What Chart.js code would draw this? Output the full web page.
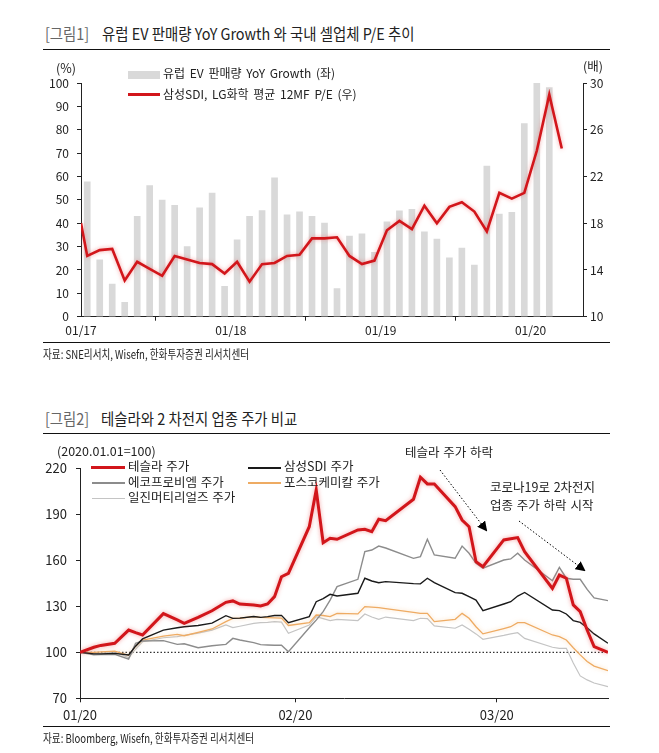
<!DOCTYPE html>
<html>
<head>
<meta charset="utf-8">
<script src="https://cdn.jsdelivr.net/npm/chart.js@4.4.1/dist/chart.umd.min.js"></script>
<style>
body { margin: 0; background: #fff; font-family: 'Noto Sans CJK KR', 'Noto Sans', sans-serif; color: #222; }
#page { position: relative; width: 659px; height: 753px; overflow: hidden; }
.t { position: absolute; white-space: nowrap; line-height: 1; }
.rule { position: absolute; left: 43px; width: 567px; height: 1px; background: #111; }
.title { font-size: 16px; transform: scaleX(.9); transform-origin: left center; }
.tag { color: #666; }
.src { font-size: 12px; transform: scaleX(.8); transform-origin: left center; }
.leg { font-size: 12.5px; word-spacing: 1px; color: #222; }
.leg1 { font-size: 12px; word-spacing: 2px; color: #222; }
.sw { position: absolute; }
canvas { position: absolute; left: 0; }
svg { position: absolute; left: 0; top: 0; }
</style>
</head>
<body>
<div id="page">
  <!-- figure 1 -->
  <div class="t title tag" style="left:45px;top:25px">[그림1]</div>
  <div class="t title" style="left:102px;top:25px">유럽 EV 판매량 YoY Growth 와 국내 셀업체 P/E 추이</div>
  <div class="rule" style="top:49px"></div>
  <canvas id="evChart" width="659" height="295" style="top:50px"></canvas>
  <div class="t leg" style="left:56px;top:62px">(%)</div>
  <div class="t leg" style="left:583px;top:60px">(배)</div>
  <div class="sw" style="left:128px;top:71px;width:32px;height:8px;background:#d9d9d9"></div>
  <div class="t leg1" style="left:163px;top:67px">유럽 EV 판매량 YoY Growth (좌)</div>
  <div class="sw" style="left:128px;top:93px;width:32px;height:3px;background:#d2161b"></div>
  <div class="t leg1" style="left:163px;top:88px">삼성SDI, LG화학 평균 12MF P/E (우)</div>
  <div class="rule" style="top:342px"></div>
  <div class="t src" style="left:43px;top:348px">자료: SNE리서치, Wisefn, 한화투자증권 리서치센터</div>

  <!-- figure 2 -->
  <div class="t title tag" style="left:45px;top:410px">[그림2]</div>
  <div class="t title" style="left:101px;top:410px">테슬라와 2 차전지 업종 주가 비교</div>
  <div class="rule" style="top:433px"></div>
  <canvas id="stockChart" width="659" height="290" style="top:440px"></canvas>
  <div class="t leg" style="left:57px;top:445px;word-spacing:0">(2020.01.01=100)</div>

  <div class="sw" style="left:91px;top:466px;width:34px;height:3px;background:#d2161b"></div>
  <div class="t leg" style="left:128px;top:460px">테슬라 주가</div>
  <div class="sw" style="left:248px;top:467px;width:33px;height:1.5px;background:#1a1a1a"></div>
  <div class="t leg" style="left:284px;top:460px">삼성SDI 주가</div>
  <div class="sw" style="left:92px;top:482px;width:33px;height:1.5px;background:#8c8c8c"></div>
  <div class="t leg" style="left:128px;top:476px">에코프로비엠 주가</div>
  <div class="sw" style="left:248px;top:482px;width:33px;height:1.5px;background:#eeab63"></div>
  <div class="t leg" style="left:284px;top:476px">포스코케미칼 주가</div>
  <div class="sw" style="left:92px;top:498px;width:33px;height:1px;background:#c4c4c4"></div>
  <div class="t leg" style="left:128px;top:491px">일진머티리얼즈 주가</div>

  <div class="t leg" style="left:405px;top:446px">테슬라 주가 하락</div>
  <div class="t leg" style="left:490px;top:481px">코로나19로 2차전지</div>
  <div class="t leg" style="left:490px;top:499px">업종 주가 하락 시작</div>
  <svg width="659" height="753">
    <defs>
      <marker id="ah" markerWidth="10" markerHeight="10" refX="8" refY="5" orient="auto" markerUnits="userSpaceOnUse">
        <path d="M0,0 L10,5 L0,10 z" fill="#000"/>
      </marker>
    </defs>
    <line x1="440" y1="470" x2="486" y2="530" stroke="#000" stroke-width="1" stroke-dasharray="1.5,2" marker-end="url(#ah)"/>
    <line x1="519" y1="521" x2="584" y2="570" stroke="#000" stroke-width="1" stroke-dasharray="1.5,2" marker-end="url(#ah)"/>
  </svg>

  <div class="rule" style="top:726px"></div>
  <div class="t src" style="left:43px;top:732px">자료: Bloomberg, Wisefn, 한화투자증권 리서치센터</div>
</div>

<script>
// ---------- figure 1 data ----------
var months = [
  '01/17','02/17','03/17','04/17','05/17','06/17','07/17','08/17','09/17','10/17','11/17','12/17',
  '01/18','02/18','03/18','04/18','05/18','06/18','07/18','08/18','09/18','10/18','11/18','12/18',
  '01/19','02/19','03/19','04/19','05/19','06/19','07/19','08/19','09/19','10/19','11/19','12/19',
  '01/20','02/20','03/20'
];
// EU EV sales YoY growth (%), 01/17 ~ 02/20
var evGrowth = [
  57.7, 24.3, 14.0, 6.1, 43.0, 56.1, 49.9, 47.7, 30.0, 46.6, 52.9, 13.0,
  32.9, 42.9, 45.4, 59.4, 43.6, 44.9, 43.0, 40.1, 12.0, 34.5, 35.5, 27.5,
  40.6, 45.3, 45.9, 36.3, 33.2, 25.2, 29.4, 22.1, 64.5, 43.9, 44.7, 82.6,
  100.0, 98.0
];
// Samsung SDI / LG Chem avg 12MF P/E (x): start of 01/17, then monthly 01/17 ~ 03/20
var peRatio = [
  18.0,
  15.2, 15.7, 15.8, 13.1, 14.7, 14.1, 13.5, 15.2, 14.9, 14.6, 14.5, 13.7,
  14.7, 13.0, 14.5, 14.6, 15.2, 15.3, 16.7, 16.7, 16.8, 15.2, 14.5, 14.8,
  17.4, 18.2, 17.5, 19.5, 18.0, 19.4, 19.8, 19.0, 17.3, 20.6, 20.1, 20.6,
  24.2, 29.0, 24.4
];
var evTicks = [0, 12, 24, 36];

// ---------- figure 2 data ----------
var tradeDates = [
  '01-01','01-03','01-04','01-06','01-08','01-09','01-10','01-13','01-15','01-16','01-18','01-20',
  '01-22','01-23','01-24','01-26','01-27','01-28','01-29','01-30','01-31',
  '02-03','02-04','02-05','02-06','02-07','02-10','02-11','02-12','02-13','02-14',
  '02-18','02-19','02-20','02-21','02-24','02-25','02-26','02-27','02-28',
  '03-02','03-03','03-04','03-05','03-09','03-10','03-11','03-12','03-13','03-14','03-15','03-17'
];
var tesla = [
  100, 103.3, 104.5, 105.9, 114.5, 112.8, 111.3, 125.2, 121.1, 118.9, 122.8, 127.1,
  132.6, 133.5, 131.5, 130.8, 130.2, 131.5, 136.3, 149.3, 151.5,
  181.9, 205.9, 171.5, 174.4, 173.7, 179.8, 180.2, 178.7, 186.8, 185.8,
  199.8, 214.2, 209.8, 209.8, 195.0, 186.3, 181.9, 159.1, 155.8,
  173.3, 174.0, 174.8, 165.6, 141.7, 150.4, 148.3, 130.9, 126.5, 114.5, 103.7, 100.0
];
var samsungSdi = [
  100, 99.0, 99.0, 99.3, 98.3, 104.0, 108.7, 114.5, 116.0, 116.7, 117.5, 119.0,
  123.9, 122.1, 122.3, 123.3, 122.8, 123.3, 124.0, 124.1, 119.3,
  123.3, 133.0, 135.0, 137.8, 136.7, 138.5, 148.3, 146.5, 145.4, 146.1,
  144.8, 144.6, 148.3, 145.4, 138.9, 138.5, 136.3, 134.1, 127.2,
  131.5, 133.0, 136.7, 139.0, 127.6, 127.2, 125.0, 120.7, 119.5, 116.0, 112.0, 105.9
];
var ecopro = [
  100, 98.3, 98.5, 98.7, 95.6, 105.8, 107.4, 107.6, 105.2, 105.6, 103.0, 104.3,
  105.2, 109.1, 108.0, 106.3, 105.0, 104.8, 104.6, 104.6, 100.4,
  116.0, 121.0, 126.5, 134.0, 142.8, 147.6, 165.7, 166.7, 169.3, 168.0,
  161.3, 162.4, 173.7, 163.5, 161.3, 169.3, 164.6, 158.0, 154.8,
  160.2, 160.9, 164.6, 160.2, 146.7, 155.4, 148.3, 147.6, 147.6, 141.0, 135.5, 133.7
];
var poscoChem = [
  100, 100.0, 100.3, 100.8, 98.0, 104.0, 108.0, 110.5, 111.7, 110.8, 113.0, 115.2,
  120.0, 122.1, 122.2, 123.3, 122.8, 122.6, 122.5, 122.3, 117.5,
  119.3, 124.3, 124.0, 123.3, 125.4, 125.0, 129.8, 129.5, 129.1, 128.5,
  126.0, 125.4, 125.4, 120.0, 121.5, 125.4, 122.2, 116.7, 112.0,
  115.5, 116.7, 119.3, 119.3, 111.3, 110.2, 108.0, 103.0, 98.3, 94.0, 91.0, 88.0
];
var iljin = [
  100, 99.5, 99.5, 100.2, 96.5, 102.0, 106.9, 109.5, 110.2, 111.0, 112.5, 114.5,
  117.8, 116.1, 117.0, 118.9, 119.3, 119.5, 120.0, 119.7, 112.4,
  117.8, 123.3, 122.0, 120.7, 121.5, 120.7, 125.0, 123.0, 121.5, 123.0,
  120.7, 122.2, 122.0, 117.2, 115.7, 117.8, 115.0, 112.0, 108.5,
  111.0, 112.0, 112.8, 109.1, 103.3, 102.6, 102.6, 93.0, 84.6, 82.0, 80.0, 77.6
];
var stockTicks = ['01-01', '02-01', '03-01'];
var stockTickLabels = ['01/20', '02/20', '03/20'];
var baseIndex = 100;

// ---------- helpers ----------
function dayOf(s) {
  var p = s.split('-');
  return (Date.UTC(2020, +p[0] - 1, +p[1]) - Date.UTC(2020, 0, 1)) / 86400000;
}
function series(vals, xs) {
  return vals.map(function (v, i) { return { x: xs[i], y: v }; });
}
function glowPlugin(colors) {
  return {
    id: 'glow',
    beforeDatasetDraw: function (chart, args) {
      var c = colors[args.index];
      if (!c) return;
      chart.ctx.save();
      chart.ctx.shadowColor = c;
      chart.ctx.shadowBlur = 4;
    },
    afterDatasetDraw: function (chart, args) {
      if (colors[args.index]) chart.ctx.restore();
    }
  };
}
var FONT = { family: "'Noto Sans CJK KR', 'Noto Sans', sans-serif", size: 12 };
function axisGrid() {
  return { display: true, drawOnChartArea: false, drawTicks: true, tickLength: 4, color: '#222' };
}
Chart.defaults.font.family = FONT.family;
Chart.defaults.color = '#222';

// ---------- figure 1 ----------
var barX = evGrowth.map(function (v, i) { return i + 0.5; });
var peX = peRatio.map(function (v, i) { return i === 0 ? 0 : i - 0.5; });

new Chart(document.getElementById('evChart'), {
  type: 'bar',
  data: {
    datasets: [
      {
        type: 'line',
        data: series(peRatio, peX),
        yAxisID: 'y1',
        borderColor: '#d2161b',
        borderWidth: 2.6,
        pointRadius: 0,
        tension: 0,
        fill: false
      },
      {
        type: 'bar',
        data: series(evGrowth, barX),
        yAxisID: 'y',
        backgroundColor: '#d9d9d9',
        borderWidth: 0,
        barThickness: 6
      }
    ]
  },
  options: {
    responsive: false,
    animation: false,
    layout: { padding: { top: 33, bottom: 6.3, left: 21, right: 36 } },
    plugins: { legend: { display: false }, tooltip: { enabled: false } },
    scales: {
      x: {
        type: 'linear',
        min: 0,
        max: 40.2,
        offset: false,
        grid: axisGrid(),
        border: { display: true, color: '#222', width: 1 },
        afterBuildTicks: function (s) { s.ticks = evTicks.map(function (v) { return { value: v }; }); },
        afterFit: function (s) { s.height = 22; },
        ticks: {
          font: FONT, padding: 3, maxRotation: 0, autoSkip: false,
          callback: function (v) { return months[v]; }
        }
      },
      y: {
        position: 'left',
        min: 0,
        max: 100,
        grid: axisGrid(),
        border: { display: true, color: '#222', width: 1 },
        afterFit: function (s) { s.width = 60; },
        ticks: { stepSize: 10, font: FONT, padding: 8 }
      },
      y1: {
        position: 'right',
        min: 10,
        max: 30,
        grid: axisGrid(),
        border: { display: true, color: '#222', width: 1 },
        afterFit: function (s) { s.width = 40; },
        ticks: { stepSize: 4, font: FONT, padding: 3 }
      }
    }
  },
  plugins: [glowPlugin({ 0: 'rgba(235,90,90,0.55)' })]
});

// ---------- figure 2 ----------
var dx = tradeDates.map(dayOf);
var tickDays = stockTicks.map(dayOf);

var baseLine = {
  id: 'baseLine',
  beforeDatasetsDraw: function (chart) {
    var ctx = chart.ctx, a = chart.chartArea;
    var py = chart.scales.y.getPixelForValue(baseIndex);
    ctx.save();
    ctx.setLineDash([1.5, 2]);
    ctx.strokeStyle = '#000';
    ctx.lineWidth = 1;
    ctx.beginPath();
    ctx.moveTo(a.left, py);
    ctx.lineTo(a.right, py);
    ctx.stroke();
    ctx.restore();
  }
};

function lineSet(vals, color, width) {
  return {
    data: series(vals, dx),
    borderColor: color,
    borderWidth: width,
    pointRadius: 0,
    tension: 0,
    fill: false
  };
}

new Chart(document.getElementById('stockChart'), {
  type: 'line',
  data: {
    datasets: [
      lineSet(tesla, '#d2161b', 3),
      lineSet(samsungSdi, '#1a1a1a', 1.4),
      lineSet(ecopro, '#8c8c8c', 1.4),
      lineSet(poscoChem, '#eeab63', 1.3),
      lineSet(iljin, '#c4c4c4', 1.2)
    ]
  },
  options: {
    responsive: false,
    animation: false,
    layout: { padding: { top: 28.3, bottom: 5.7, left: 25, right: 51 } },
    plugins: { legend: { display: false }, tooltip: { enabled: false } },
    scales: {
      x: {
        type: 'linear',
        min: 0,
        max: 76,
        grid: axisGrid(),
        border: { display: true, color: '#222', width: 1 },
        afterBuildTicks: function (s) { s.ticks = tickDays.map(function (v) { return { value: v }; }); },
        afterFit: function (s) { s.height = 26; },
        ticks: {
          font: { family: FONT.family, size: 13 }, padding: 5, maxRotation: 0, autoSkip: false,
          callback: function (v) { return stockTickLabels[tickDays.indexOf(v)]; }
        }
      },
      y: {
        min: 70,
        max: 220,
        grid: axisGrid(),
        border: { display: true, color: '#222', width: 1 },
        afterFit: function (s) { s.width = 55; },
        ticks: { stepSize: 30, font: { family: FONT.family, size: 13 }, padding: 9 }
      }
    }
  },
  plugins: [baseLine, glowPlugin({ 0: 'rgba(235,90,90,0.55)', 3: 'rgba(245,190,130,0.6)' })]
});
</script>
</body>
</html>
